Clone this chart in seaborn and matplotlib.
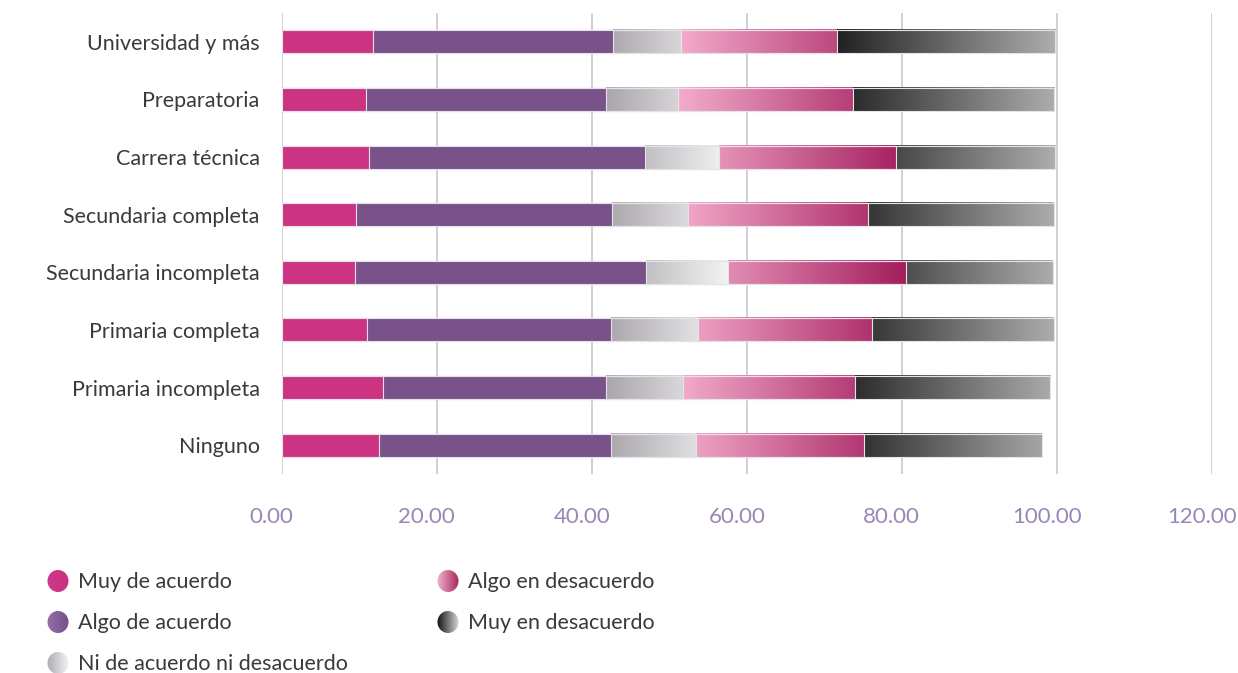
import numpy as np
import pandas as pd
import matplotlib
matplotlib.use("Agg")
import matplotlib.pyplot as plt
import matplotlib.transforms as mtransforms
import seaborn as sns
from matplotlib.colors import LinearSegmentedColormap, Normalize
from matplotlib.patches import Ellipse

# ---------------- data ----------------
categories = ["Universidad y más", "Preparatoria", "Carrera técnica",
              "Secundaria completa", "Secundaria incompleta",
              "Primaria completa", "Primaria incompleta", "Ninguno"]
muy_de_acuerdo = [11.74, 10.84, 11.31, 9.63, 9.50, 11.05, 13.11, 12.59]
algo_de_acuerdo = [31.01, 31.01, 35.61, 32.99, 37.50, 31.48, 28.74, 29.86]
ni_de_acuerdo_ni_desacuerdo = [8.77, 9.28, 9.51, 9.81, 10.59, 11.22, 9.93, 10.97]
algo_en_desacuerdo = [20.13, 22.54, 22.87, 23.18, 23.01, 22.45, 22.19, 21.76]
muy_en_desacuerdo = [28.13, 25.98, 20.53, 24.00, 18.88, 23.41, 25.17, 22.96]
series_names = ["Muy de acuerdo", "Algo de acuerdo", "Ni de acuerdo ni desacuerdo",
                "Algo en desacuerdo", "Muy en desacuerdo"]
x_ticks = [0, 20, 40, 60, 80, 100, 120]

# ---------------- styles ----------------
solid_colors = ["#cc3483", "#79528a", "#c0bdc2", "#c9628f", "#606060"]
gradients = {
    2: (["#a8a4aa", "#f6f6f6"], 41.5, 58.0),
    3: (["#f3abcb", "#a21c5c"], 51.3, 80.8),
    4: (["#1c1c1c", "#aeaeae"], 70.5, 100.0),
}
legend_grads = [
    ["#d0398a", "#c93080"],
    ["#9470aa", "#73508a"],
    ["#aeabb2", "#f2f2f2"],
    ["#f0b4cc", "#aa2660"],
    ["#101010", "#d8d8d8"],
]
edge_col = "#e6e2ea"
text_col = "#3a3a3a"

sns.set_theme(style="white")
plt.rcParams["font.family"] = ["Lato", "DejaVu Sans"]

values = np.array([muy_de_acuerdo, algo_de_acuerdo, ni_de_acuerdo_ni_desacuerdo,
                   algo_en_desacuerdo, muy_en_desacuerdo])
cum = np.cumsum(values, axis=0)

fig, ax = plt.subplots(figsize=(12.38, 6.73), dpi=100)
fig.subplots_adjust(left=0.2276, right=0.9788, top=0.9807, bottom=0.2957)

patches_by_series = {}
for k in reversed(range(len(series_names))):
    df = pd.DataFrame({"categoria": categories, "acumulado": cum[k]})
    before = len(ax.patches)
    sns.barplot(data=df, x="acumulado", y="categoria", orient="h",
                color=solid_colors[k], saturation=1, width=0.4,
                errorbar=None, edgecolor=edge_col, linewidth=0.8, ax=ax)
    patches_by_series[k] = list(ax.patches[before:])

# gradient segments
for k, (cols, vmin, vmax) in gradients.items():
    cmap = LinearSegmentedColormap.from_list(f"g{k}", cols)
    norm = Normalize(vmin=vmin, vmax=vmax)
    for i, p in enumerate(patches_by_series[k]):
        x1 = p.get_x() + p.get_width()
        x0 = patches_by_series[k - 1][i].get_x() + patches_by_series[k - 1][i].get_width()
        y0 = p.get_y()
        h = p.get_height()
        p.set_facecolor("none")
        grad = np.linspace(x0, x1, 256).reshape(1, -1)
        ax.imshow(grad, cmap=cmap, norm=norm, extent=(x0, x1, y0, y0 + h),
                  origin="lower", aspect="auto", interpolation="bilinear", zorder=0.9)

ax.set_xlim(0, 120)
ax.set_ylim(len(categories) - 0.5, -0.5)
ax.set_xticks(x_ticks, labels=[f"{v:.2f}" for v in x_ticks])
ax.set_xlabel("")
ax.set_ylabel("")
ax.set_axisbelow(True)
ax.grid(axis="x", color="#cbc8ce", linewidth=1.2)
ax.grid(axis="y", visible=False)
for s in ax.spines.values():
    s.set_visible(False)
ax.tick_params(axis="x", length=0, pad=24, labelsize=16, labelcolor="#9a86b6")
ax.tick_params(axis="y", length=0, pad=16, labelsize=15.5, labelcolor=text_col)
shift = mtransforms.ScaledTranslation(-10 / 100, 0, fig.dpi_scale_trans)
for lbl in ax.get_xticklabels():
    lbl.set_transform(lbl.get_transform() + shift)

# ---------------- legend (overlay in pixel coordinates) ----------------
lax = fig.add_axes([0, 0, 1, 1])
lax.set_xlim(0, 1238)
lax.set_ylim(673, 0)
lax.axis("off")
legend_pos = [(58, 581), (58, 622), (58, 663), (448, 581), (448, 622)]
for name, (cx, cy), cols in zip(series_names, legend_pos, legend_grads):
    ell = Ellipse((cx, cy), 21, 22, facecolor="none", edgecolor="none")
    lax.add_patch(ell)
    cmap = LinearSegmentedColormap.from_list("lg", cols)
    grad = np.linspace(0, 1, 64).reshape(1, -1)
    im = lax.imshow(grad, cmap=cmap, extent=(cx - 11, cx + 11, cy + 12, cy - 12),
                    aspect="auto", interpolation="bilinear")
    im.set_clip_path(ell)
    lax.text(cx + 20, cy + 1, name, fontsize=15.5, color=text_col,
             ha="left", va="center")
lax.set_xlim(0, 1238)
lax.set_ylim(673, 0)

fig.savefig("out.png", dpi=100)
